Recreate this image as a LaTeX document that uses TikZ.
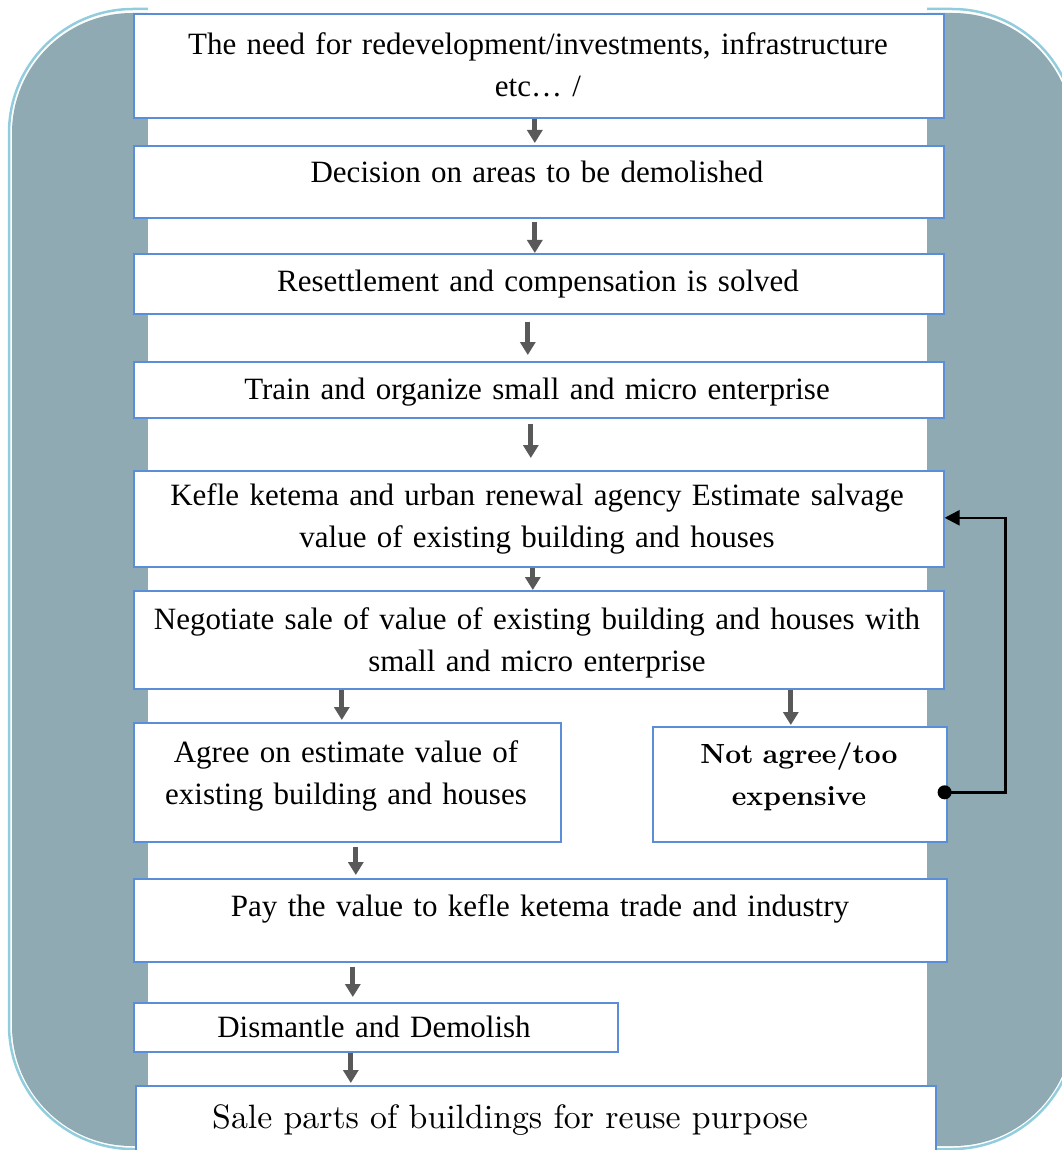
\documentclass[tikz,border=0pt]{standalone}
\usepackage{fontspec}
\setmainfont{Liberation Serif}
\newfontfamily\schulbuch{lmroman10-regular.otf}[BoldFont=lmroman10-bold.otf]
\usetikzlibrary{arrows.meta}

\definecolor{panelgrey}{RGB}{143,170,178}
\definecolor{rimblue}{RGB}{146,205,221}
\definecolor{boxblue}{RGB}{91,142,216}
\definecolor{arrowgrey}{RGB}{89,89,89}

\begin{document}
\begin{tikzpicture}[
    x=1pt, y=-1pt,
    kasten/.style={
      draw=boxblue,
      line width=1.6pt,
      fill=white,
      inner sep=0pt,
      anchor=north west},
    zeile/.style={
      font=\fontsize{31}{42}\selectfont,
      align=center,
      text width=900pt,
      anchor=base,
      inner sep=0pt},
    pfeil/.style={-{Triangle[width=15pt,length=13pt]}, line width=5pt, arrowgrey},
    rueck/.style={{Circle[length=14pt]}-{Triangle[width=15pt,length=15pt]}, line width=2.6pt, black}
    ]

  \useasboundingbox (0,0) rectangle (1061,1150);

  % hintergrund
  \fill[panelgrey, rounded corners=120pt] (12,13) rectangle (1073,1146);
  \draw[rimblue, line width=2.5pt, rounded corners=124pt] (9,9) rectangle (1076,1149);
  \fill[white] (148,0) rectangle (927,1150);

  \node at (133,13)   (bedarf)       [kasten, minimum width=810, minimum height=104] {};
  \node at (133,145)  (entscheidung) [kasten, minimum width=810, minimum height=72] {};
  \node at (133,253)  (umsiedlung)   [kasten, minimum width=810, minimum height=60] {};
  \node at (133,361)  (schulung)     [kasten, minimum width=810, minimum height=56] {};
  \node at (133,470)  (schaetzung)   [kasten, minimum width=810, minimum height=96] {};
  \node at (133,590)  (verhandlung)  [kasten, minimum width=810, minimum height=98] {};
  \node at (133,722)  (einig)        [kasten, minimum width=427, minimum height=119] {};
  \node at (652,726)  (uneinig)      [kasten, minimum width=294, minimum height=115] {};
  \node at (133,878)  (zahlung)      [kasten, minimum width=813, minimum height=83] {};
  \node at (133,1002) (abriss)       [kasten, minimum width=484, minimum height=49] {};
  \node at (135,1085) (verkauf)      [kasten, minimum width=800, minimum height=90] {};

  \node at (538,55)   (bedarftext)       [zeile] {The need for redevelopment/investments, infrastructure\\etc… /};
  \node at (537,183)  (entscheidungtext) [zeile] {Decision on areas to be demolished};
  \node at (538,291)  (umsiedlungtext)   [zeile] {Resettlement and compensation is solved};
  \node at (537,399)  (schulungtext)     [zeile] {Train and organize small and micro enterprise};
  \node at (537,505)  (schaetzungtext)   [zeile] {Kefle ketema and urban renewal agency Estimate salvage\\value of existing building and houses};
  \node at (537,629)  (verhandlungtext)  [zeile] {Negotiate sale of value of existing building and houses with\\small and micro enterprise};
  \node at (346,762)  (einigtext)        [zeile] {Agree on estimate value of\\existing building and houses};
  \node at (799,763)  (uneinigtext)      [zeile, font=\schulbuch\bfseries\fontsize{27.7}{42}\selectfont] {Not agree/too\\expensive};
  \node at (540,916)  (zahlungtext)      [zeile] {Pay the value to kefle ketema trade and industry};
  \node at (374,1037) (abrisstext)       [zeile] {Dismantle and Demolish};
  \node at (510,1128) (verkauftext)      [zeile, font=\schulbuch\fontsize{33.8}{42}\selectfont] {Sale parts of buildings for reuse purpose};

  \path [pfeil] ([xshift=-4pt]bedarf.south) edge [shorten >=2pt] ([xshift=-4pt]entscheidung.north);
  \path [pfeil] ([xshift=-4pt]entscheidung.south) edge [shorten <=3pt] ([xshift=-4pt]umsiedlung.north);
  \path [pfeil] ([xshift=-11pt]umsiedlung.south) edge [shorten <=7pt, shorten >=6pt] ([xshift=-11pt]schulung.north);
  \path [pfeil] ([xshift=-8pt]schulung.south) edge [shorten <=5pt, shorten >=12pt] ([xshift=-8pt]schaetzung.north);
  \path [pfeil] ([xshift=-6pt]schaetzung.south) edge [] ([xshift=-6pt]verhandlung.north);
  \path [pfeil] ([xshift=-197pt]verhandlung.south) edge [shorten >=2pt] ([xshift=-5.5pt]einig.north);
  \path [pfeil] ([xshift=252pt]verhandlung.south) edge [shorten >=1pt] ([xshift=-9pt]uneinig.north);
  \path [pfeil] ([xshift=8.5pt]einig.south) edge [shorten <=4pt, shorten >=3pt] ([xshift=-184.5pt]zahlung.north);
  \path [pfeil] ([xshift=-187.5pt]zahlung.south) edge [shorten <=4pt, shorten >=5pt] ([xshift=-23pt]abriss.north);
  \path [pfeil] ([xshift=-25pt]abriss.south) edge [shorten >=2pt] ([xshift=-185pt]verkauf.north);

  \draw [rueck] ([xshift=-10pt, yshift=-8pt]uneinig.east) -- ++(68,0) |- ([yshift=1pt]schaetzung.east);

\end{tikzpicture}
\end{document}
